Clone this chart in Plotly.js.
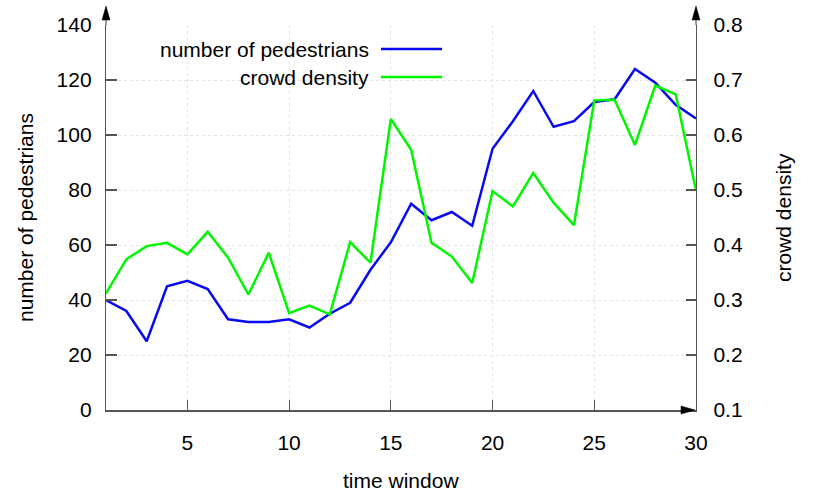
<!DOCTYPE html>
<html>
<head>
<meta charset="utf-8">
<script src="https://cdn.plot.ly/plotly-3.0.1.min.js"></script>
<style>html,body{margin:0;padding:0;background:#fff;}#chart{width:830px;height:498px;}</style>
</head>
<body>
<div id="chart"></div>
<script>
const timeWindow = [1,2,3,4,5,6,7,8,9,10,11,12,13,14,15,16,17,18,19,20,21,22,23,24,25,26,27,28,29,30];
const pedestrians = [40,36,25,45,47,44,33,32,32,33,30,35,39,51,61,75,69,72,67,95,105,116,103,105,112,113,124,119,111,106];
const crowdDensity = [0.312,0.374,0.398,0.404,0.383,0.424,0.377,0.310,0.386,0.276,0.290,0.274,0.405,0.368,0.629,0.573,0.404,0.379,0.331,0.498,0.470,0.531,0.477,0.436,0.663,0.664,0.582,0.690,0.674,0.499];
const seriesNames = ["number of pedestrians", "crowd density"];
const xTitle = "time window";
const yTitle = "number of pedestrians";
const y2Title = "crowd density";

const FONT = "Liberation Sans, Arial, sans-serif";
const FS = 21;
const blue = "#0a0af0";
const green = "#00f500";
const axisCol = "#555555";

const traces = [
  {x: timeWindow, y: pedestrians, name: seriesNames[0], type: "scatter", mode: "lines",
   line: {color: blue, width: 2.5}, yaxis: "y", showlegend: false},
  {x: timeWindow, y: crowdDensity, name: seriesNames[1], type: "scatter", mode: "lines",
   line: {color: green, width: 2.5}, yaxis: "y2", showlegend: false}
];

const px2x = p => (p - 106) / 590;
const px2y = p => (410 - p) / 385;

function tri(pts){ return "M " + pts.map(p => px2x(p[0]) + "," + px2y(p[1])).join(" L ") + " Z"; }

const shapes = [
  {type:"line", xref:"paper", yref:"paper", x0:0, x1:0, y0:1, y1:px2y(19), line:{color:axisCol, width:1.2}},
  {type:"line", xref:"paper", yref:"paper", x0:1, x1:1, y0:1, y1:px2y(19), line:{color:axisCol, width:1.2}},
  {type:"path", xref:"paper", yref:"paper", path: tri([[106,6],[102,20],[110,20]]), fillcolor:"#000", line:{color:"#000", width:0.5}},
  {type:"path", xref:"paper", yref:"paper", path: tri([[696,6],[692,20],[700,20]]), fillcolor:"#000", line:{color:"#000", width:0.5}},
  {type:"path", xref:"paper", yref:"paper", path: tri([[695,410],[681,406],[681,414]]), fillcolor:"#000", line:{color:"#000", width:0.5}},
  {type:"line", xref:"paper", yref:"paper", x0:px2x(381), x1:px2x(442), y0:px2y(49), y1:px2y(49), line:{color:blue, width:2.5}},
  {type:"line", xref:"paper", yref:"paper", x0:px2x(381), x1:px2x(442), y0:px2y(77), y1:px2y(77), line:{color:green, width:2.5}}
];

const annFont = {family: FONT, size: FS, color: "#000"};
const annotations = [
  {xref:"paper", yref:"paper", x:px2x(371), y:px2y(49), xanchor:"right", yanchor:"middle", text:seriesNames[0], showarrow:false, font:annFont},
  {xref:"paper", yref:"paper", x:px2x(371), y:px2y(77), xanchor:"right", yanchor:"middle", text:seriesNames[1], showarrow:false, font:annFont},
  {xref:"paper", yref:"paper", x:px2x(401), y:px2y(480), xanchor:"center", yanchor:"middle", text:xTitle, showarrow:false, font:annFont},
  {xref:"paper", yref:"paper", x:px2x(25), y:px2y(218), xanchor:"center", yanchor:"middle", text:yTitle, textangle:-90, showarrow:false, font:annFont},
  {xref:"paper", yref:"paper", x:px2x(783), y:px2y(218), xanchor:"center", yanchor:"middle", text:y2Title, textangle:-90, showarrow:false, font:annFont}
];

const tf = {family: FONT, size: FS, color: "#000"};
const layout = {
  width: 830, height: 498,
  margin: {l: 106, r: 134, t: 25, b: 88, pad: 0},
  paper_bgcolor: "#fff", plot_bgcolor: "#fff",
  font: tf,
  showlegend: false,
  xaxis: {
    range: [1, 30], tick0: 5, dtick: 5, ticks: "inside", ticklen: 10, tickcolor: axisCol, tickwidth: 1.2,
    showline: true, linecolor: axisCol, linewidth: 1.5, mirror: false,
    showgrid: true, gridcolor: "#e4e4e4", griddash: "dot", gridwidth: 1,
    zeroline: false, ticklabelstandoff: 13, tickfont: tf
  },
  yaxis: {
    range: [0, 140], dtick: 20, ticks: "inside", ticklen: 11, tickcolor: axisCol, tickwidth: 1.2,
    showline: true, linecolor: axisCol, linewidth: 1.2,
    showgrid: true, gridcolor: "#e4e4e4", griddash: "dot", gridwidth: 1,
    zeroline: false, ticklabelstandoff: 9, tickfont: tf
  },
  yaxis2: {
    range: [0.1, 0.8], dtick: 0.1, tick0: 0.1, overlaying: "y", side: "right",
    ticks: "inside", ticklen: 10, tickcolor: axisCol, tickwidth: 1.2,
    showline: true, linecolor: axisCol, linewidth: 1.2, showgrid: false, zeroline: false,
    ticklabelstandoff: 12, tickformat: ".1f", tickfont: tf
  },
  shapes: shapes,
  annotations: annotations
};

Plotly.newPlot("chart", traces, layout, {displayModeBar: false, staticPlot: true});
</script>
</body>
</html>
